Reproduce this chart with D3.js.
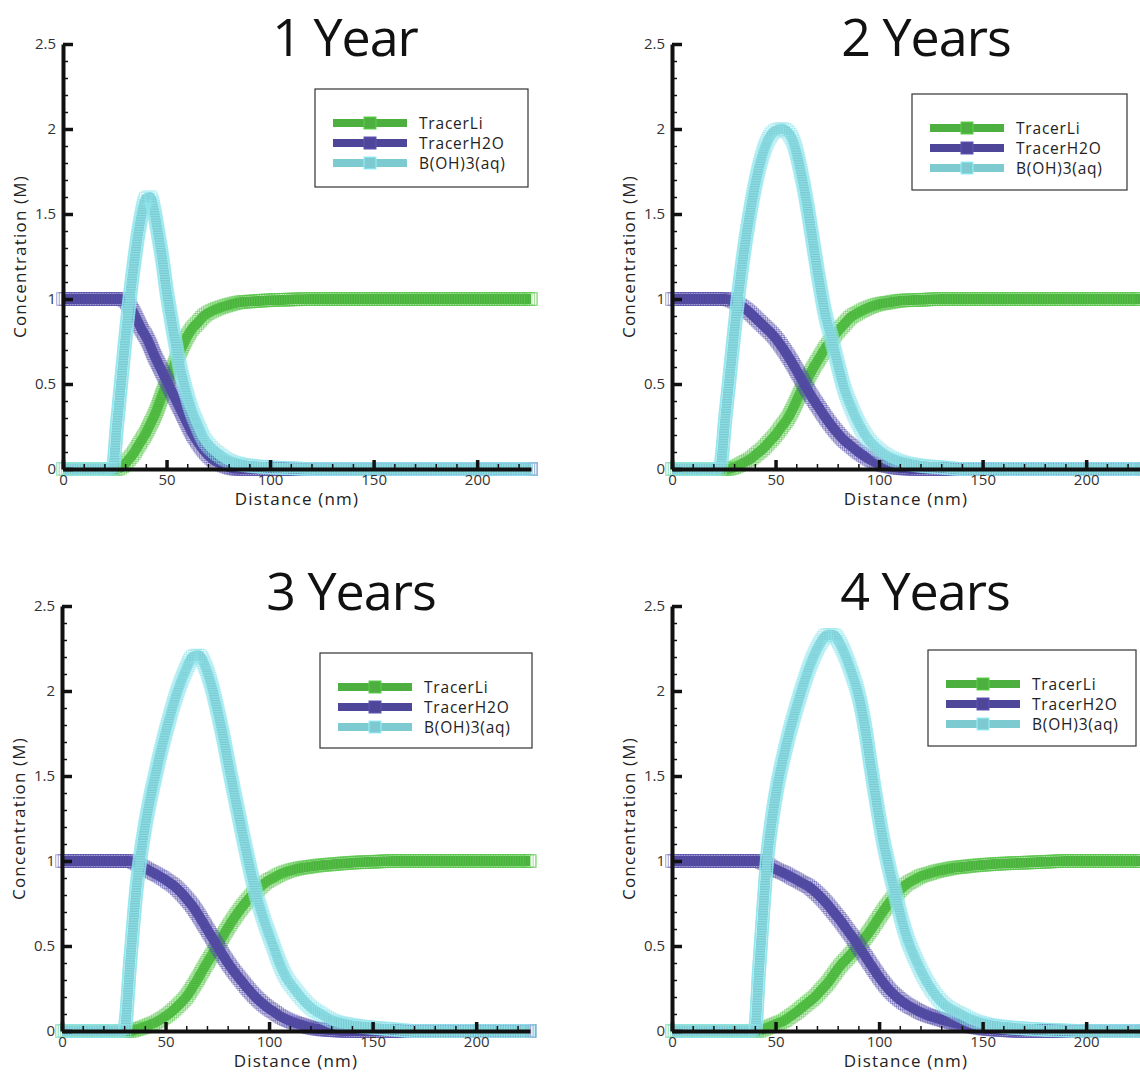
<!DOCTYPE html>
<html>
<head>
<meta charset="utf-8">
<script src="https://cdn.jsdelivr.net/npm/d3@7"></script>
<style>
  body { margin: 0; background: #fff; }
  text { font-family: "Open Sans", "Noto Sans", sans-serif; }
</style>
</head>
<body>
<script>
// concentration profiles after 1-4 years

var panelTitles = ["1 Year", "2 Years", "3 Years", "4 Years"];
var seriesNames = ["TracerLi", "TracerH2O", "B(OH)3(aq)"];
var seriesColors = ["#4caf3f", "#4e4799", "#7ecad1"];
var yTicks = [0, 0.5, 1, 1.5, 2, 2.5];
var yTickLabels = ["0", "0.5", "1", "1.5", "2", "2.5"];
var xTicks = [0, 50, 100, 150, 200];
var xTickLabels = ["0", "50", "100", "150", "200"];

// 1 year
var dist1 = [0,10,20,24,26,28,30,32,34,36, 38,40,42,44,46,48,50,52,54,56, 58,60,62,65,68,72,76,80,85,90, 100,110,120,140,160,180,200,226];
var li1   = [0,0,0,0,0,0.01,0.03,0.06,0.09,0.13, 0.17,0.21,0.26,0.31,0.37,0.44,0.5,0.56,0.62,0.68, 0.73,0.78,0.82,0.86,0.9,0.93,0.95,0.965,0.98,0.985, 0.993,0.997,1,1,1,1,1,1];
var h2o1  = [1,1,1,1,1,1,0.99,0.96,0.92,0.87, 0.82,0.78,0.73,0.67,0.62,0.57,0.52,0.47,0.42,0.37, 0.32,0.27,0.22,0.16,0.11,0.06,0.03,0.01,0,0, 0,0,0,0,0,0,0,0];
var boh1  = [0,0,0,0,0.25,0.5,0.75,0.98,1.18,1.36, 1.5,1.59,1.6,1.52,1.38,1.23,1.05,0.9,0.76,0.63, 0.52,0.43,0.35,0.26,0.18,0.12,0.08,0.05,0.03,0.02, 0.01,0.005,0,0,0,0,0,0];

// 2 years
var dist2 = [0,10,20,23,26,29,32,35,38,41, 44,47,50,53,56,59,62,65,68,71, 74,77,80,83,86,90,95,100,105,110, 120,130,140,160,180,200,226];
var li2   = [0,0,0,0,0,0.005,0.02,0.04,0.06,0.09, 0.12,0.16,0.2,0.25,0.3,0.37,0.45,0.52,0.59,0.65, 0.71,0.76,0.81,0.85,0.89,0.92,0.95,0.97,0.98,0.99, 0.995,1,1,1,1,1,1];
var h2o2  = [1,1,1,1,1,0.99,0.97,0.945,0.915,0.88, 0.845,0.81,0.77,0.72,0.665,0.605,0.54,0.475,0.415,0.36, 0.305,0.255,0.21,0.17,0.14,0.1,0.06,0.03,0.015,0.005, 0,0,0,0,0,0,0];
var boh2  = [0,0,0,0,0.33,0.68,1.02,1.3,1.53,1.72, 1.86,1.95,1.99,2.0,1.98,1.91,1.76,1.57,1.34,1.11, 0.91,0.77,0.62,0.48,0.38,0.27,0.17,0.11,0.07,0.045, 0.02,0.01,0,0,0,0,0];

// 3 years
var dist3 = [0,10,20,30,33,36,39,42,45,48, 51,54,57,60,63,66,69,72,75,78, 81,84,87,90,93,96,99,102,105,108, 112,116,120,125,130,140,150,160,170,185, 200,226];
var li3   = [0,0,0,0,0,0.01,0.02,0.035,0.05,0.07, 0.095,0.125,0.16,0.2,0.255,0.315,0.38,0.44,0.5,0.565, 0.625,0.68,0.73,0.775,0.815,0.85,0.88,0.9,0.92,0.935, 0.95,0.96,0.967,0.975,0.98,0.99,0.995,1,1,1, 1,1];
var h2o3  = [1,1,1,1,1,0.985,0.965,0.945,0.925,0.905, 0.88,0.855,0.82,0.78,0.735,0.68,0.62,0.56,0.5,0.44, 0.385,0.335,0.29,0.245,0.205,0.17,0.14,0.115,0.09,0.07, 0.05,0.035,0.02,0.01,0.005,0,0,0,0,0, 0,0];
var boh3  = [0,0,0,0,0.42,0.84,1.12,1.33,1.5,1.66, 1.8,1.93,2.04,2.13,2.2,2.21,2.15,2.04,1.89,1.72, 1.53,1.35,1.17,1.0,0.84,0.71,0.6,0.5,0.4,0.32, 0.25,0.19,0.14,0.1,0.065,0.035,0.02,0.01,0,0, 0,0];

// 4 years
var dist4 = [0,10,20,30,40,42,44,46,48,51, 54,57,60,63,66,69,72,75,78,81, 84,87,90,93,96,99,102,105,108,111, 114,117,120,124,128,132,136,140,145,150, 160,170,180,190,200,226];
var li4   = [0,0,0,0,0,0,0.01,0.02,0.03,0.045, 0.06,0.085,0.11,0.14,0.17,0.2,0.24,0.28,0.33,0.38, 0.42,0.46,0.5,0.545,0.595,0.65,0.705,0.755,0.8,0.84, 0.87,0.89,0.91,0.925,0.94,0.95,0.96,0.965,0.972,0.977, 0.985,0.99,0.995,1,1,1];
var h2o4  = [1,1,1,1,1,1,0.99,0.98,0.965,0.945, 0.93,0.91,0.89,0.87,0.85,0.82,0.785,0.745,0.7,0.655, 0.605,0.555,0.5,0.445,0.39,0.335,0.285,0.24,0.205,0.175, 0.15,0.13,0.11,0.09,0.075,0.06,0.048,0.037,0.025,0.015, 0.005,0,0,0,0,0];
var boh4  = [0,0,0,0,0,0.35,0.7,1.02,1.22,1.45, 1.62,1.77,1.9,2.02,2.13,2.22,2.29,2.33,2.33,2.28, 2.2,2.1,1.98,1.8,1.56,1.33,1.12,0.95,0.8,0.65, 0.53,0.44,0.36,0.27,0.2,0.15,0.12,0.095,0.065,0.045, 0.025,0.015,0.008,0.003,0,0];

var totwidth = 1140,
    totheight = 1074,
    plotW = 468,
    plotH = 425;

// where each panel sits on the page
var panels = [
  {title: panelTitles[0], dist: dist1, series: [li1, h2o1, boh1], left: 63,  bottom: 469,  titleX: 345, titleY: 56,  legend: [315, 89, 213, 98]},
  {title: panelTitles[1], dist: dist2, series: [li2, h2o2, boh2], left: 672, bottom: 469,  titleX: 926, titleY: 56,  legend: [912, 94, 215, 96]},
  {title: panelTitles[2], dist: dist3, series: [li3, h2o3, boh3], left: 62,  bottom: 1031, titleX: 351, titleY: 610, legend: [320, 653, 212, 95]},
  {title: panelTitles[3], dist: dist4, series: [li4, h2o4, boh4], left: 672, bottom: 1031, titleX: 925, titleY: 610, legend: [928, 650, 208, 96]}
];

var svg = d3.select("body").append("svg")
    .attr("width", totwidth)
    .attr("height", totheight);

panels.forEach(function(p) {
  var xScale = d3.scaleLinear().domain([0, 226]).range([p.left, p.left + plotW]);
  var yScale = d3.scaleLinear().domain([0, 2.5]).range([p.bottom, p.bottom - plotH]);
  var g = svg.append("g");

  var line = d3.line()
      .x(function(d) { return xScale(d[0]); })
      .y(function(d) { return yScale(d[1]); })
      .curve(d3.curveMonotoneX);

  // curves: thick line with open square markers packed along it
  p.series.forEach(function(vals, k) {
    var pts = p.dist.map(function(d, j) { return [d, vals[j]]; });
    var path = g.append("path")
        .attr("d", line(pts))
        .attr("fill", "none")
        .attr("stroke", seriesColors[k])
        .attr("stroke-width", 10)
        .attr("stroke-linejoin", "round");

    var node = path.node(), len = node.getTotalLength(), spots = [];
    for (var s = 0; s <= len; s += 2.5) { spots.push(node.getPointAtLength(s)); }
    spots.push(node.getPointAtLength(len));

    g.append("g").selectAll("rect")
        .data(spots)
        .enter().append("rect")
          .attr("x", function(d) { return d.x - 6.25; })
          .attr("y", function(d) { return d.y - 6.25; })
          .attr("width", 12.5)
          .attr("height", 12.5)
          .attr("fill", "none")
          .attr("stroke", d3.color(seriesColors[k]).brighter(0.35))
          .attr("stroke-opacity", 0.55)
          .attr("stroke-width", 1);
  });

  // y axis, ticks point inward
  g.append("g")
      .attr("transform", "translate(" + p.left + ",0)")
      .call(d3.axisLeft(yScale).tickValues(d3.range(0, 2.51, 0.1)).tickSize(-5).tickSizeOuter(0).tickFormat(""))
      .call(function(a) {
        a.select(".domain").remove();
        a.selectAll("line").attr("stroke", "#111").attr("stroke-width", 1.5);
      });
  g.append("g")
      .attr("transform", "translate(" + p.left + ",0)")
      .call(d3.axisLeft(yScale).tickValues(yTicks).tickSize(-10).tickSizeOuter(0).tickPadding(7)
            .tickFormat(function(d, i) { return yTickLabels[i]; }))
      .call(function(a) {
        a.select(".domain").attr("stroke", "#111").attr("stroke-width", 4);
        a.selectAll("line").attr("stroke", "#111").attr("stroke-width", 3.5);
        a.selectAll("text").attr("font-size", 15).attr("fill", "#333")
          .attr("font-family", "'Open Sans', sans-serif");
      });

  // x axis
  g.append("g")
      .attr("transform", "translate(0," + p.bottom + ")")
      .call(d3.axisBottom(xScale).tickValues(d3.range(0, 221, 10)).tickSize(-5).tickSizeOuter(0).tickFormat(""))
      .call(function(a) {
        a.select(".domain").remove();
        a.selectAll("line").attr("stroke", "#111").attr("stroke-width", 1.5);
      });
  g.append("g")
      .attr("transform", "translate(0," + p.bottom + ")")
      .call(d3.axisBottom(xScale).tickValues(xTicks).tickSize(-9).tickSizeOuter(0).tickPadding(5)
            .tickFormat(function(d, i) { return xTickLabels[i]; }))
      .call(function(a) {
        a.select(".domain").attr("stroke", "#111").attr("stroke-width", 4);
        a.selectAll("line").attr("stroke", "#111").attr("stroke-width", 3.5);
        a.selectAll("text").attr("font-size", 15).attr("fill", "#333")
          .attr("font-family", "'Open Sans', sans-serif");
      });

  // axis titles
  g.append("text")
      .attr("x", p.left + plotW / 2)
      .attr("y", p.bottom + 36)
      .attr("text-anchor", "middle")
      .attr("font-size", 17)
      .attr("letter-spacing", 1.2)
      .attr("fill", "#222")
      .text("Distance (nm)");
  g.append("text")
      .attr("transform", "translate(" + (p.left - 37) + "," + (p.bottom - plotH / 2) + ") rotate(-90)")
      .attr("text-anchor", "middle")
      .attr("font-size", 17)
      .attr("letter-spacing", 1.2)
      .attr("fill", "#222")
      .text("Concentration (M)");

  // panel title
  g.append("text")
      .attr("x", p.titleX)
      .attr("y", p.titleY)
      .attr("text-anchor", "middle")
      .attr("font-size", 52)
      .attr("letter-spacing", -1)
      .attr("fill", "#111")
      .text(p.title);

  // legend
  var lg = g.append("g").attr("transform", "translate(" + p.legend[0] + "," + p.legend[1] + ")");
  lg.append("rect")
      .attr("width", p.legend[2])
      .attr("height", p.legend[3])
      .attr("fill", "#fff")
      .attr("stroke", "#333")
      .attr("stroke-width", 1.2);
  seriesNames.forEach(function(name, k) {
    var ly = 34 + k * 20;
    lg.append("line")
        .attr("x1", 18).attr("x2", 92)
        .attr("y1", ly).attr("y2", ly)
        .attr("stroke", seriesColors[k])
        .attr("stroke-width", 8);
    lg.append("rect")
        .attr("x", 49).attr("y", ly - 6)
        .attr("width", 12).attr("height", 12)
        .attr("fill", seriesColors[k])
        .attr("stroke", d3.color(seriesColors[k]).brighter(0.5))
        .attr("stroke-width", 1);
    lg.append("text")
        .attr("x", 104)
        .attr("y", ly + 5.5)
        .attr("font-size", 15.5)
        .attr("letter-spacing", 0.8)
        .attr("fill", "#222")
        .text(name);
  });
});
</script>
</body>
</html>
